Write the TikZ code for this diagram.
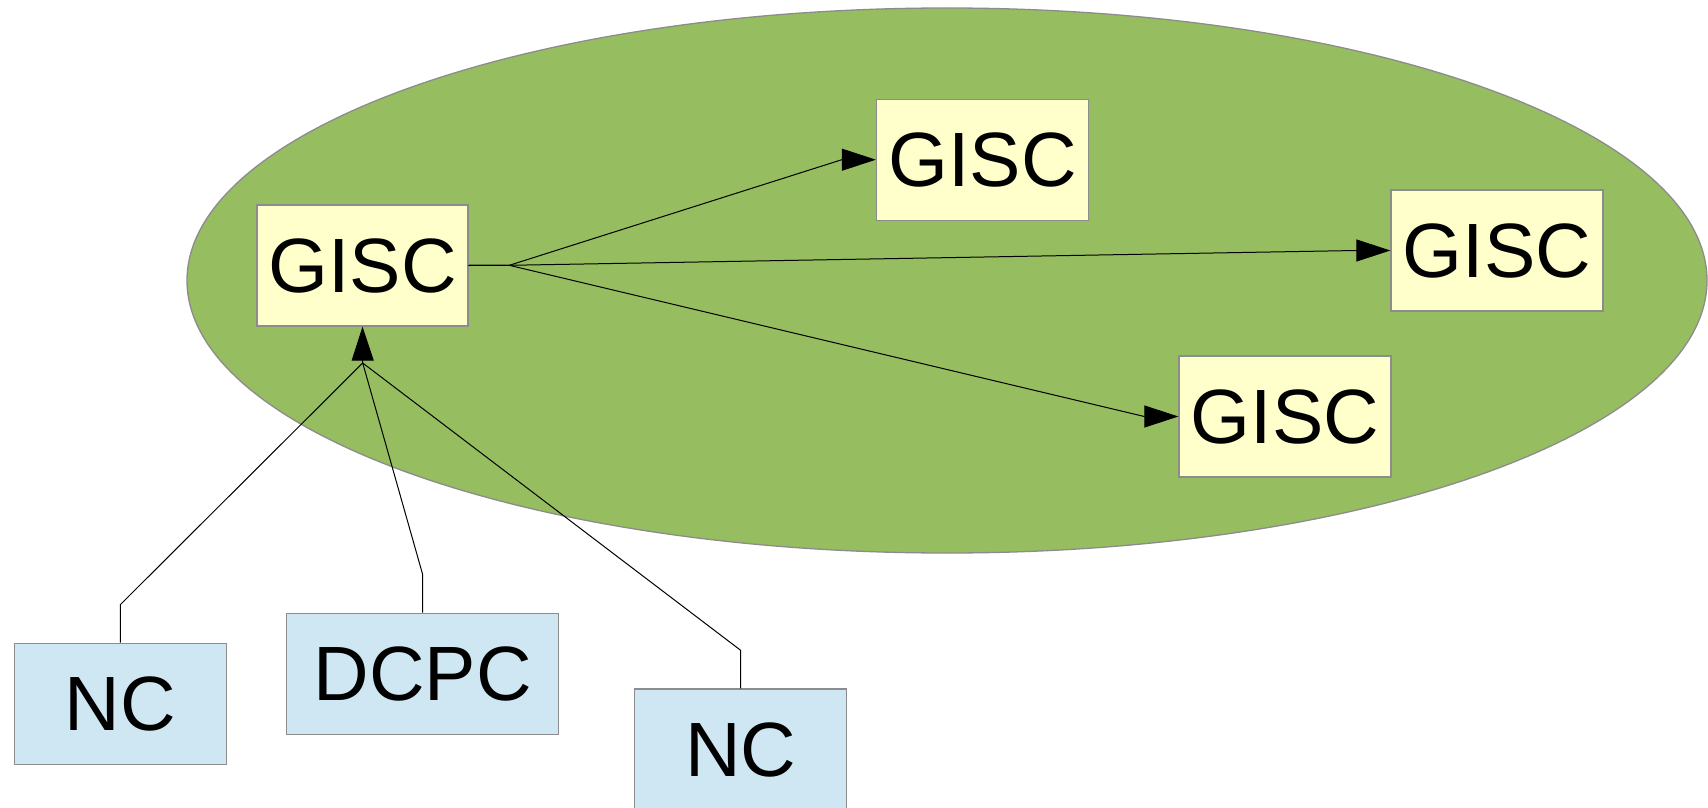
\documentclass[tikz,border=0pt]{standalone}
\usepackage{fontspec}
\setmainfont{Liberation Sans}
\usetikzlibrary{arrows.meta,calc}
\definecolor{areagreen}{RGB}{150,189,96}
\definecolor{gisccol}{RGB}{255,255,204}
\definecolor{nccol}{RGB}{207,230,243}
\definecolor{edgegray}{RGB}{140,140,140}
\tikzset{
  box/.style={draw=edgegray, line width=1.3pt, inner sep=0pt, minimum height=121pt,
    font=\fontsize{77}{80}\selectfont},
  gisc/.style={box, fill=gisccol, minimum width=212pt},
  ncbox/.style={box, fill=nccol},
  link/.style={draw=black, line width=1pt},
  arr/.style={link, -{Triangle[length=34pt,width=22pt]}},
}
\begin{document}
\begin{tikzpicture}[x=1pt,y=-1pt]
  \clip (0,0) rectangle (1708,808);
  \fill[white] (0,0) rectangle (1708,808);
  % enclosing region
  \draw[fill=areagreen, draw=edgegray, line width=1.3pt] (947,280.5) ellipse [x radius=760, y radius=272.5];

  % GISC nodes
  \node[gisc, minimum width=211pt] (A) at (362.5,265.5) {GISC};
  \node[gisc] (B) at (982.5,159.7) {GISC};
  \node[gisc] (C) at (1497,250.5) {GISC};
  \node[gisc] (D) at (1285,416.5) {GISC};

  % NC / DCPC nodes
  \node[ncbox, minimum width=212pt] (E) at (120.4,703.7) {NC};
  \node[ncbox, minimum width=272pt] (F) at (422.7,673.8) {DCPC};
  \node[ncbox, minimum width=212pt] (G) at (740.7,749.5) {NC};

  % fan-out from the main GISC
  \coordinate (fan) at (509.3,265.3);
  \draw[arr] (A.east) -- (fan) -- ($(B.west)+(-34,0)$) -- (B.west);
  \draw[arr] (A.east) -- (fan) -- ($(C.west)+(-34,0)$) -- (C.west);
  \draw[arr] (A.east) -- (fan) -- ($(D.west)+(-34,0)$) -- (D.west);

  % feeds into the main GISC
  \coordinate (join) at (362.7,363);
  \draw[link] (E.north) -- ++(0,-38) -- (join);
  \draw[link] (F.north) -- ++(0,-38) -- (join);
  \draw[link] (G.north) -- ++(0,-38) -- (join);
  \draw[arr] (join) -- (A.south);
\end{tikzpicture}
\end{document}
